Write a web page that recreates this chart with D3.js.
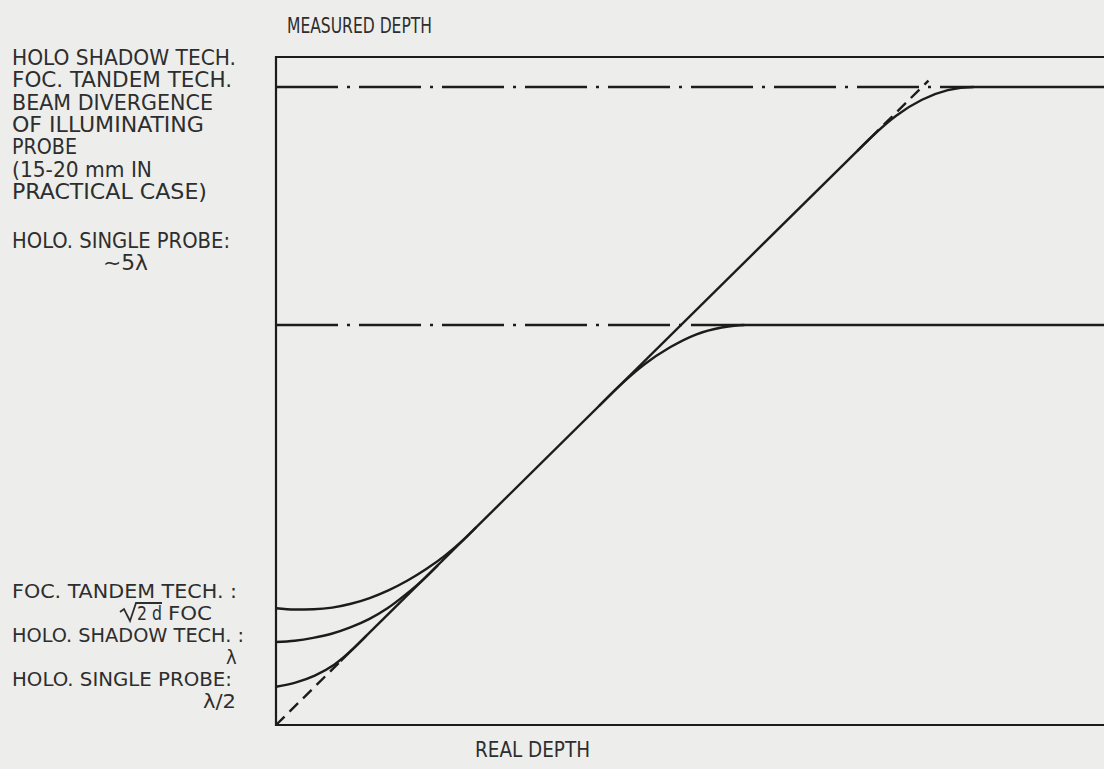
<!DOCTYPE html>
<html>
<head>
<meta charset="utf-8">
<script src="https://cdn.jsdelivr.net/npm/d3@7"></script>
<style>
  body { margin: 0; background: #ededeb; }
  svg text { font-family: "DejaVu Sans Condensed", "DejaVu Sans", sans-serif; font-stretch: condensed; fill: #2e2e2e; }
</style>
</head>
<body>
<div id="chart"></div>
<script>
// line y = x (measured = real), with dashed ends
const diagLow = [[0, 0], [1.0, 1.0]];
const diagMid = [[1.0, 1.0], [9.2, 9.2]];
const diagHigh = [[9.2, 9.2], [10.1, 10.1]];

// limits
const upperLimit = 10;
const lowerLimit = 6.27;

// saturating curves
const upperCurve = [[9.0, 9.0], [9.2, 9.2], [9.6, 9.55], [10.0, 9.8], [10.4, 9.95], [10.8, 10], [13, 10]];
const lowerCurve = [[5.0, 5.0], [5.3, 5.3], [5.7, 5.65], [6.1, 5.92], [6.5, 6.12], [6.9, 6.23], [7.25, 6.27], [13, 6.27]];

// resolution curves near origin
const focCurve = [[0, 1.83], [0.29, 1.81], [0.58, 1.815], [0.87, 1.84], [1.16, 1.9], [1.45, 1.99], [1.74, 2.11],
  [2.03, 2.26], [2.32, 2.44], [2.61, 2.65], [2.9, 2.9], [3.1, 3.1]];
const shadowCurve = [[0, 1.3], [0.29, 1.32], [0.575, 1.365], [0.86, 1.43], [1.15, 1.53], [1.44, 1.66], [1.725, 1.83],
  [2.0, 2.04], [2.3, 2.3], [2.5, 2.5]];
const singleCurve = [[0, 0.6], [0.3, 0.665], [0.6, 0.775], [0.9, 0.945], [1.2, 1.2], [1.4, 1.4]];

// texts
const yTitle = "MEASURED DEPTH";
const xTitle = "REAL DEPTH";
const topNote = ["HOLO SHADOW TECH.", "FOC. TANDEM TECH.", "BEAM DIVERGENCE", "OF ILLUMINATING", "PROBE", "(15-20 mm IN", "PRACTICAL CASE)"];
const midNote = ["HOLO. SINGLE PROBE:", "\u223C5\u03BB"];
const lowNote = ["FOC. TANDEM TECH. :", "2 d", "FOC", "HOLO. SHADOW TECH. :", "\u03BB", "HOLO. SINGLE PROBE:", "\u03BB/2"];

function draw() {
  const width = 1104, height = 769;
  const svg = d3.select('#chart').append('svg')
    .attr('width', width).attr('height', height);

  const x = d3.scaleLinear().domain([0, 13]).range([276, 276 + 13 * 64.6]);
  const y = d3.scaleLinear().domain([0, 10]).range([725, 87]);
  const yTop = 57;

  const line = d3.line().x(d => x(d[0])).y(d => y(d[1])).curve(d3.curveMonotoneX);
  const straight = d3.line().x(d => x(d[0])).y(d => y(d[1]));
  const ink = '#1c1c1c';
  const sw = 2.4;

  // frame
  svg.append('path')
    .attr('d', `M${width + 5},${yTop}H${x(0)}V${y(0)}H${width + 5}`)
    .attr('fill', 'none').attr('stroke', ink).attr('stroke-width', 2.2);

  // dash-dot limits
  svg.append('path').attr('d', straight([[0, upperLimit], [10.8, upperLimit]]))
    .attr('fill', 'none').attr('stroke', ink).attr('stroke-width', sw)
    .attr('stroke-dasharray', '62,9,3,9');
  svg.append('path').attr('d', straight([[0, lowerLimit], [7.25, lowerLimit]]))
    .attr('fill', 'none').attr('stroke', ink).attr('stroke-width', sw)
    .attr('stroke-dasharray', '62,9,3,9');

  // diagonal
  svg.append('path').attr('d', straight(diagLow))
    .attr('fill', 'none').attr('stroke', ink).attr('stroke-width', sw).attr('stroke-dasharray', '12,7');
  svg.append('path').attr('d', straight(diagMid))
    .attr('fill', 'none').attr('stroke', ink).attr('stroke-width', sw);
  svg.append('path').attr('d', straight(diagHigh))
    .attr('fill', 'none').attr('stroke', ink).attr('stroke-width', sw).attr('stroke-dasharray', '12,7');

  // curves
  svg.selectAll('path.curve')
    .data([upperCurve, lowerCurve, focCurve, shadowCurve, singleCurve])
    .join('path')
    .attr('class', 'curve')
    .attr('d', line)
    .attr('fill', 'none').attr('stroke', ink).attr('stroke-width', sw);

  // axis titles
  svg.append('text').attr('x', 287).attr('y', 33).attr('font-size', 21)
    .attr('textLength', 145).attr('lengthAdjust', 'spacingAndGlyphs').text(yTitle);
  svg.append('text').attr('x', 475).attr('y', 757).attr('font-size', 21)
    .attr('textLength', 115).attr('lengthAdjust', 'spacingAndGlyphs').text(xTitle);

  // left notes
  const topW = [224, 220, 201, 192, 65, 140, 195];
  svg.selectAll('text.top').data(topNote).join('text')
    .attr('class', 'top')
    .attr('x', 12).attr('y', (d, i) => 65 + i * 22.3)
    .attr('font-size', 21)
    .attr('textLength', (d, i) => topW[i]).attr('lengthAdjust', 'spacingAndGlyphs')
    .text(d => d);

  svg.append('text').attr('x', 12).attr('y', 248).attr('font-size', 21)
    .attr('textLength', 218).attr('lengthAdjust', 'spacingAndGlyphs').text(midNote[0]);
  svg.append('text').attr('x', 103).attr('y', 270).attr('font-size', 21)
    .attr('textLength', 45).attr('lengthAdjust', 'spacingAndGlyphs').text(midNote[1]);

  // lower notes, one row every 22 px
  const row = i => 598 + i * 22;
  svg.append('text').attr('x', 12).attr('y', row(0)).attr('font-size', 20)
    .attr('textLength', 225).attr('lengthAdjust', 'spacingAndGlyphs').text(lowNote[0]);
  const sq = svg.append('g');
  sq.append('path').attr('d', `M120,${row(1) - 8} L124,${row(1) - 11} L130,${row(1) + 1} L136,${row(1) - 17} L162,${row(1) - 17}`)
    .attr('fill', 'none').attr('stroke', '#2e2e2e').attr('stroke-width', 1.8);
  sq.append('text').attr('x', 137).attr('y', row(1)).attr('font-size', 20)
    .attr('textLength', 25).attr('lengthAdjust', 'spacingAndGlyphs').text(lowNote[1]);
  sq.append('text').attr('x', 168).attr('y', row(1)).attr('font-size', 20)
    .attr('textLength', 44).attr('lengthAdjust', 'spacingAndGlyphs').text(lowNote[2]);
  svg.append('text').attr('x', 12).attr('y', row(2)).attr('font-size', 20)
    .attr('textLength', 232).attr('lengthAdjust', 'spacingAndGlyphs').text(lowNote[3]);
  svg.append('text').attr('x', 226).attr('y', row(3)).attr('font-size', 20).text(lowNote[4]);
  svg.append('text').attr('x', 12).attr('y', row(4)).attr('font-size', 20)
    .attr('textLength', 220).attr('lengthAdjust', 'spacingAndGlyphs').text(lowNote[5]);
  svg.append('text').attr('x', 203).attr('y', row(5)).attr('font-size', 20)
    .attr('textLength', 33).attr('lengthAdjust', 'spacingAndGlyphs').text(lowNote[6]);
}

draw();
</script>
</body>
</html>
